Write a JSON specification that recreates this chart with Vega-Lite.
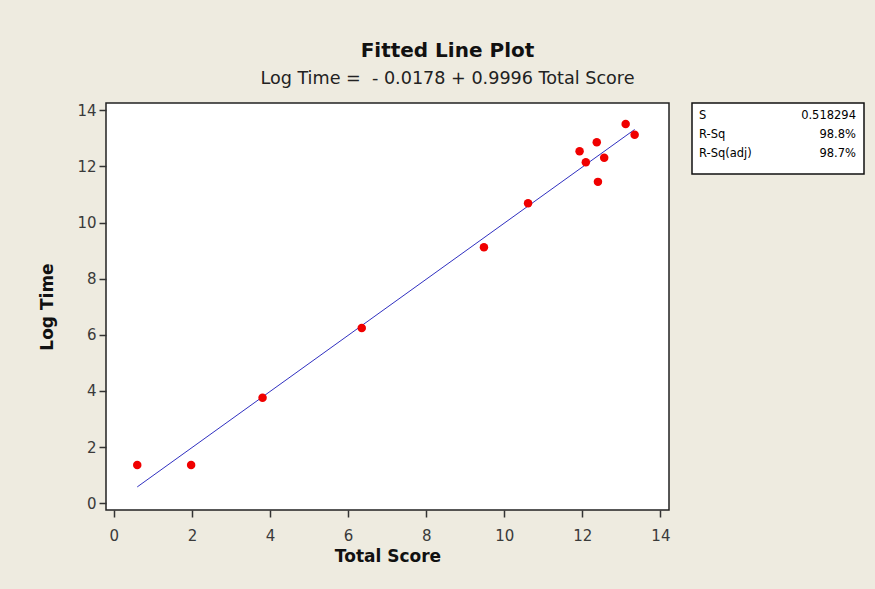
{
  "$schema": "https://vega.github.io/schema/vega-lite/v6.json",
  "background": "#EEEBE0",
  "padding": {"left": 38, "top": 40, "right": 20, "bottom": 80},
  "title": {
    "text": "Fitted Line Plot",
    "subtitle": "Log Time =\u00a0 - 0.0178 + 0.9996 Total Score",
    "anchor": "middle",
    "font": "DejaVu Sans",
    "fontSize": 20,
    "fontWeight": "bold",
    "color": "#111111",
    "subtitleFont": "DejaVu Sans",
    "subtitleFontSize": 17.6,
    "subtitleColor": "#222222",
    "subtitlePadding": 9,
    "offset": 15,
    "dx": -4
  },
  "spacing": 20,
  "config": {
    "font": "DejaVu Sans",
    "view": {"stroke": null},
    "axis": {
      "grid": false,
      "domain": false,
      "tickColor": "#333333",
      "tickWidth": 1.5,
      "tickSize": 7,
      "labelColor": "#3a3a3a",
      "labelFont": "DejaVu Sans",
      "labelFontSize": 15,
      "titleFont": "DejaVu Sans",
      "titleFontSize": 17,
      "titleFontWeight": "bold",
      "titleColor": "#111111"
    }
  },
  "hconcat": [
    {
      "width": 563,
      "height": 407,
      "view": {"stroke": "#222222", "strokeWidth": 1.5, "fill": "white"},
      "layer": [
        {
          "data": {"values": [
            {"TotalScore": 0.6, "LogTime": 0.582},
            {"TotalScore": 13.34, "LogTime": 13.317}
          ]},
          "mark": {"type": "line", "color": "#3030C0", "strokeWidth": 1},
          "encoding": {
            "x": {"field": "TotalScore", "type": "quantitative", "title": "Total Score",
                  "scale": {"domain": [-0.2, 14.22], "nice": false, "zero": false},
                  "axis": {"values": [0, 2, 4, 6, 8, 10, 12, 14], "labelPadding": 11, "titlePadding": 5}},
            "y": {"field": "LogTime", "type": "quantitative", "title": "Log Time",
                  "scale": {"domain": [-0.24, 14.26], "nice": false, "zero": false},
                  "axis": {"values": [0, 2, 4, 6, 8, 10, 12, 14], "labelPadding": 3, "titlePadding": 20}}
          }
        },
        {
          "data": {"values": [
            {"TotalScore": 0.60, "LogTime": 1.36},
            {"TotalScore": 1.98, "LogTime": 1.36},
            {"TotalScore": 3.81, "LogTime": 3.76},
            {"TotalScore": 6.35, "LogTime": 6.24},
            {"TotalScore": 9.48, "LogTime": 9.12},
            {"TotalScore": 10.61, "LogTime": 10.69},
            {"TotalScore": 11.93, "LogTime": 12.54},
            {"TotalScore": 12.09, "LogTime": 12.15},
            {"TotalScore": 12.37, "LogTime": 12.86},
            {"TotalScore": 12.40, "LogTime": 11.45},
            {"TotalScore": 12.56, "LogTime": 12.31},
            {"TotalScore": 13.11, "LogTime": 13.51},
            {"TotalScore": 13.34, "LogTime": 13.13}
          ]},
          "mark": {"type": "circle", "color": "#F00000", "opacity": 1, "size": 72},
          "encoding": {
            "x": {"field": "TotalScore", "type": "quantitative"},
            "y": {"field": "LogTime", "type": "quantitative"}
          }
        }
      ]
    },
    {
      "width": 172,
      "height": 71,
      "view": {"stroke": "#111111", "strokeWidth": 1.5, "fill": "white"},
      "data": {"values": [
        {"stat": "S", "value": "0.518294", "row": 1},
        {"stat": "R-Sq", "value": "98.8%", "row": 2},
        {"stat": "R-Sq(adj)", "value": "98.7%", "row": 3}
      ]},
      "layer": [
        {
          "mark": {"type": "text", "align": "left", "baseline": "middle", "dx": 7, "dy": 1.5, "fontSize": 11.5, "color": "#000000"},
          "encoding": {
            "x": {"datum": 0, "type": "quantitative", "scale": {"domain": [0, 1]}, "axis": null},
            "y": {"field": "row", "type": "quantitative", "scale": {"domain": [0.38, 4.15], "reverse": true, "nice": false, "zero": false}, "axis": null},
            "text": {"field": "stat"}
          }
        },
        {
          "mark": {"type": "text", "align": "right", "baseline": "middle", "dx": -8, "dy": 1.5, "fontSize": 11.5, "color": "#000000"},
          "encoding": {
            "x": {"datum": 1, "type": "quantitative"},
            "y": {"field": "row", "type": "quantitative"},
            "text": {"field": "value"}
          }
        }
      ]
    }
  ]
}
